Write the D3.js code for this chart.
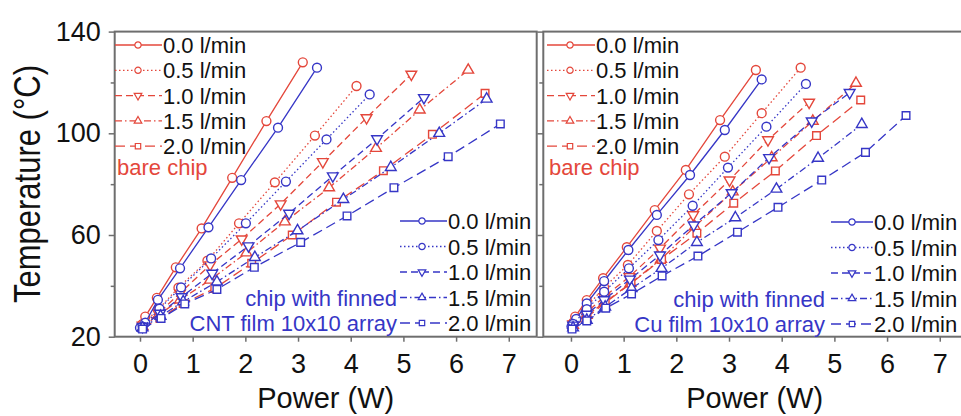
<!DOCTYPE html>
<html>
<head>
<meta charset="utf-8">
<script src="https://cdn.jsdelivr.net/npm/d3@7"></script>
<style>
  body { margin: 0; background: #fff; }
  text { font-family: "Liberation Sans", Arial, sans-serif; }
</style>
</head>
<body>
<svg id="chart" width="961" height="416"></svg>
<script>
// ---- data ----
const flowLabels = ["0.0 l/min", "0.5 l/min", "1.0 l/min", "1.5 l/min", "2.0 l/min"];
const xTicks = [0, 1, 2, 3, 4, 5, 6, 7];
const yTicks = [20, 60, 100, 140];
const yMinorTicks = [40, 80, 120];

// left panel: bare chip vs chip with finned CNT film
const cntBarePower = [
  [0.03, 0.10, 0.32, 0.68, 1.17, 1.75, 2.40, 3.09],
  [0.05, 0.35, 0.73, 1.28, 1.88, 2.56, 3.32, 4.11],
  [0.05, 0.35, 0.76, 1.33, 1.93, 2.67, 3.47, 4.30, 5.15],
  [0.05, 0.35, 0.76, 1.33, 2.02, 2.75, 3.59, 4.48, 5.31, 6.23],
  [0.05, 0.38, 0.82, 1.42, 2.12, 2.89, 3.73, 4.62, 5.55, 6.55]
];
const cntBareTemp = [
  [24.5, 27.9, 35.3, 47.3, 62.6, 82.5, 104.8, 127.9],
  [25.0, 30.8, 39.3, 49.9, 64.6, 80.7, 99.1, 118.6],
  [24.5, 29.2, 37.1, 48.2, 58.4, 72.2, 88.8, 106.1, 123.2],
  [24.0, 28.5, 34.5, 42.3, 53.0, 65.2, 78.6, 94.1, 109.2, 124.9],
  [23.5, 27.2, 33.1, 39.0, 48.9, 60.0, 72.9, 85.3, 99.6, 115.7]
];
const cntFinPower = [
  [0.00, 0.10, 0.34, 0.76, 1.30, 1.92, 2.62, 3.36],
  [0.05, 0.37, 0.78, 1.35, 2.01, 2.77, 3.54, 4.36],
  [0.05, 0.38, 0.79, 1.37, 2.06, 2.83, 3.66, 4.50, 5.39],
  [0.05, 0.39, 0.82, 1.46, 2.18, 2.99, 3.86, 4.76, 5.68, 6.58],
  [0.05, 0.40, 0.85, 1.46, 2.17, 3.05, 3.93, 4.82, 5.85, 6.84]
];
const cntFinTemp = [
  [23.5, 25.5, 34.5, 46.9, 63.0, 81.6, 102.2, 125.8],
  [24.0, 31.0, 39.4, 50.8, 64.6, 81.0, 97.6, 115.3],
  [24.0, 29.2, 35.7, 44.9, 55.7, 68.5, 83.2, 97.8, 114.0],
  [23.5, 28.1, 33.8, 41.6, 51.2, 61.7, 74.0, 86.6, 100.0, 113.5],
  [23.0, 27.2, 32.9, 38.6, 47.3, 57.1, 67.5, 78.6, 90.8, 103.7]
];

// right panel: bare chip vs chip with finned Cu film
const cuBarePower = [
  [0.03, 0.08, 0.30, 0.61, 1.06, 1.59, 2.18, 2.83, 3.51],
  [0.04, 0.30, 0.63, 1.08, 1.63, 2.24, 2.92, 3.62, 4.36],
  [0.04, 0.30, 0.63, 1.11, 1.69, 2.32, 3.01, 3.74, 4.52],
  [0.04, 0.30, 0.64, 1.13, 1.71, 2.35, 3.07, 3.81, 4.59, 5.41],
  [0.05, 0.30, 0.65, 1.14, 1.72, 2.39, 3.09, 3.88, 4.66, 5.50]
];
const cuBareTemp = [
  [24.5, 27.9, 34.4, 43.0, 55.2, 69.8, 85.6, 105.2, 124.9],
  [25.5, 31.8, 39.4, 48.2, 61.6, 76.0, 90.8, 107.9, 125.8],
  [25.0, 29.6, 35.7, 43.6, 54.8, 67.9, 81.6, 97.4, 112.2],
  [24.5, 28.5, 33.5, 41.0, 50.5, 63.3, 77.0, 90.4, 104.8, 119.7],
  [24.0, 27.6, 33.4, 41.0, 50.4, 60.7, 72.5, 85.2, 99.1, 113.1]
];
const cuFinPower = [
  [0.01, 0.10, 0.30, 0.63, 1.09, 1.63, 2.26, 2.92, 3.62],
  [0.04, 0.30, 0.63, 1.10, 1.66, 2.31, 2.98, 3.71, 4.46],
  [0.04, 0.30, 0.63, 1.12, 1.69, 2.33, 3.05, 3.76, 4.57, 5.29],
  [0.04, 0.30, 0.65, 1.15, 1.72, 2.39, 3.12, 3.90, 4.69, 5.52],
  [0.02, 0.30, 0.66, 1.15, 1.73, 2.41, 3.16, 3.93, 4.76, 5.59, 6.36]
];
const cuFinTemp = [
  [24.0, 27.0, 33.1, 41.9, 54.1, 67.9, 83.6, 101.3, 121.2],
  [25.0, 30.8, 37.7, 46.9, 58.0, 71.5, 86.5, 102.6, 119.4],
  [24.5, 28.8, 34.5, 42.6, 52.1, 63.9, 76.6, 90.4, 104.8, 116.0],
  [23.5, 26.5, 31.7, 39.0, 46.9, 57.1, 66.8, 78.1, 90.2, 103.5],
  [23.0, 26.2, 31.2, 36.8, 43.9, 51.7, 61.1, 70.9, 81.6, 92.5, 107.0]
];

// ---- styles ----
const red = "#e4473b", blue = "#3636c6", frameColor = "#6e6e6e";
const dashes = [null, "1.5,2.5", "7,4", "7,3,1.5,3", "10,5"];
const symTypes = [d3.symbolCircle, d3.symbolCircle, d3.symbolTriangle, d3.symbolTriangle, d3.symbolSquare];
const symRotate = [0, 0, 180, 0, 0];
const symSize = [62, 62, 50, 50, 58];

const svg = d3.select("#chart");
const plotTop = 31.6, plotBottom = 336.7;
const y = d3.scaleLinear().domain([20, 140]).range([plotBottom, plotTop]);

function drawPanel(x, bare, fin, legRed, legBlue, note) {
  const g = svg.append("g");

  // frame
  g.append("rect")
    .attr("x", x.range()[0]).attr("y", plotTop)
    .attr("width", x.range()[1] - x.range()[0]).attr("height", plotBottom - plotTop)
    .attr("fill", "none").attr("stroke", frameColor).attr("stroke-width", 2);

  // axes
  const ax = g.append("g").attr("transform", "translate(0," + plotBottom + ")")
    .call(d3.axisBottom(x).tickValues(xTicks).tickSize(5).tickPadding(12));
  const ay = g.append("g").attr("transform", "translate(" + x.range()[0] + ",0)")
    .call(d3.axisLeft(y).tickValues(yTicks).tickSize(6).tickPadding(8)
      .tickFormat(note.yLabels ? d3.format("d") : ""));
  const aym = g.append("g").attr("transform", "translate(" + x.range()[0] + ",0)")
    .call(d3.axisLeft(y).tickValues(yMinorTicks).tickSize(4).tickFormat(""));
  [ax, ay, aym].forEach(a => {
    a.select(".domain").remove();
    a.selectAll("line").attr("stroke", frameColor).attr("stroke-width", 1.5);
    a.selectAll("text").attr("fill", "#111").style("font-size", "27px");
  });

  // series
  const line = d3.line().x(d => x(d[0])).y(d => y(d[1]));
  [[bare, red], [fin, blue]].forEach(([s, col]) => {
    s.power.forEach((pw, i) => {
      const pts = pw.map((p, k) => [p, s.temp[i][k]]);
      g.append("path").datum(pts)
        .attr("d", line).attr("fill", "none").attr("stroke", col)
        .attr("stroke-width", 1.3).attr("stroke-dasharray", dashes[i]);
      g.selectAll(null).data(pts).enter().append("path")
        .attr("d", d3.symbol().type(symTypes[i]).size(symSize[i]))
        .attr("transform", d => "translate(" + x(d[0]) + "," + y(d[1]) + ") rotate(" + symRotate[i] + ")")
        .attr("fill", "#fff").attr("stroke", col).attr("stroke-width", 1.4);
    });
  });

  // legends
  [[legRed, red], [legBlue, blue]].forEach(([L, col]) => {
    flowLabels.forEach((lab, i) => {
      const yy = L.y0 + i * L.dy;
      g.append("line").attr("x1", L.x0).attr("x2", L.x1).attr("y1", yy).attr("y2", yy)
        .attr("stroke", col).attr("stroke-width", 1.3).attr("stroke-dasharray", dashes[i]);
      g.append("path")
        .attr("d", d3.symbol().type(symTypes[i]).size(symSize[i] * 0.5))
        .attr("transform", "translate(" + L.xm + "," + yy + ") rotate(" + symRotate[i] + ")")
        .attr("fill", "#fff").attr("stroke", col).attr("stroke-width", 1.2);
      g.append("text").attr("x", L.x1 + 1).attr("y", yy + 8)
        .attr("fill", "#111").style("font-size", "22px").text(lab);
    });
  });

  g.append("text").attr("x", legRed.x0 + 2).attr("y", 175)
    .attr("fill", red).style("font-size", "22px").text("bare chip");
  note.lines.forEach((t, i) => {
    g.append("text").attr("x", note.xEnd).attr("y", legBlue.y0 + (3 + i) * legBlue.dy + 8)
      .attr("text-anchor", "end").attr("fill", blue).style("font-size", "22px").text(t);
  });

  // x title
  const xr = x.range();
  g.append("text").attr("x", (xr[0] + Math.min(xr[1], 966)) / 2).attr("y", 408)
    .attr("text-anchor", "middle").attr("fill", "#111").style("font-size", "29px")
    .text("Power (W)");
}

const xLeft = d3.scaleLinear().domain([-0.48, 7.53]).range([114.7, 536.7]);
const xRight = d3.scaleLinear().domain([-0.525, 7.5]).range([543.3, 966.1]);

drawPanel(xLeft,
  { power: cntBarePower, temp: cntBareTemp },
  { power: cntFinPower, temp: cntFinTemp },
  { x0: 115, x1: 162, xm: 138, y0: 45, dy: 25.3 },
  { x0: 400, x1: 447, xm: 422, y0: 221, dy: 25.5 },
  { yLabels: true, xEnd: 397, lines: ["chip with finned", "CNT film 10x10 array"] });

drawPanel(xRight,
  { power: cuBarePower, temp: cuBareTemp },
  { power: cuFinPower, temp: cuFinTemp },
  { x0: 547, x1: 595, xm: 570, y0: 45, dy: 25.3 },
  { x0: 831, x1: 873, xm: 852, y0: 222, dy: 25.5 },
  { yLabels: false, xEnd: 825, lines: ["chip with finned", "Cu film 10x10 array"] });

// y title
svg.append("text")
  .attr("transform", "translate(40,184) scale(1.2,1) rotate(-90)")
  .attr("text-anchor", "middle").attr("fill", "#111").style("font-size", "31px")
  .text("Temperature (°C)");
</script>
</body>
</html>
